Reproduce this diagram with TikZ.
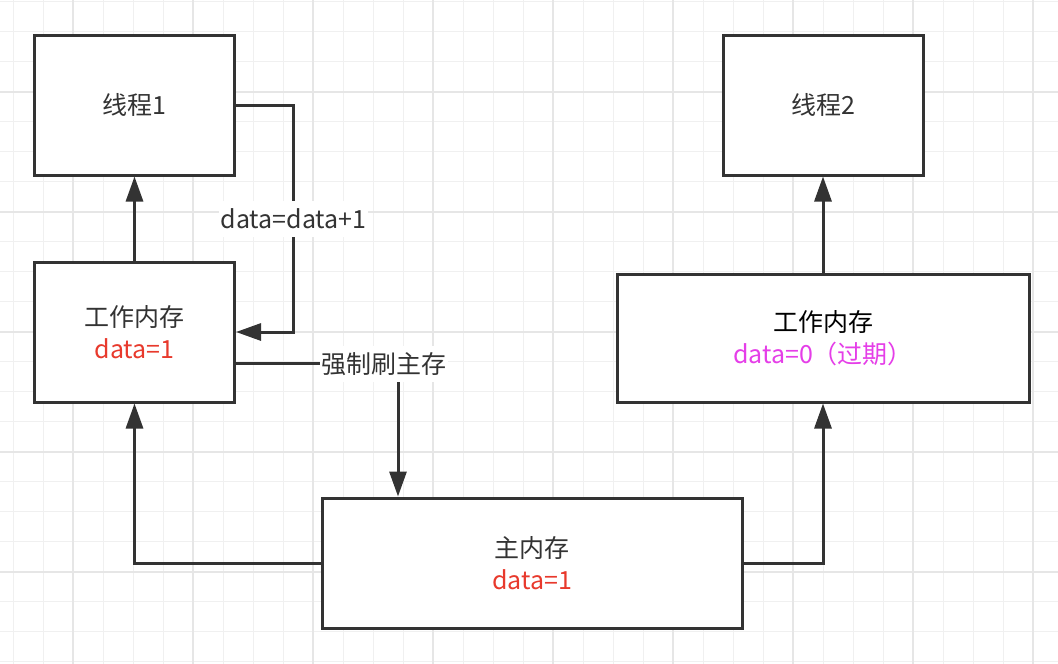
\documentclass[tikz,border=0pt]{standalone}
\usepackage{fontspec}
\setmainfont{Noto Sans CJK SC}
\usetikzlibrary{arrows.meta,calc}
\definecolor{ink}{HTML}{333333}
\definecolor{redtxt}{HTML}{E8392C}
\definecolor{magtxt}{HTML}{E53EE8}
\definecolor{gridminor}{HTML}{F0F0F0}
\definecolor{gridmajor}{HTML}{E6E6E6}
\tikzset{
  box/.style={draw=ink, line width=3pt, fill=white, rectangle, align=center,
    text=ink, font=\fontsize{25}{32}\selectfont, inner sep=0pt},
  conn/.style={draw=ink, line width=3pt, line join=miter,
    -{Triangle[length=25pt,width=17pt]}},
  lbl/.style={fill=white, text=ink, font=\fontsize{25}{28}\selectfont, inner sep=1.5pt, minimum height=36pt},
  gminor/.style={draw=gridminor, line width=1.5pt},
  gmajor/.style={draw=gridmajor, line width=1.8pt}
}
\begin{document}
\begin{tikzpicture}[x=1pt,y=-1pt]
\useasboundingbox (0,0) rectangle (1058,664);
\fill[white] (0,0) rectangle (1058,664);
% grid
\foreach \i in {0,...,35} \draw[gminor] ({13.3+30*\i},0) -- ({13.3+30*\i},664);
\foreach \i in {0,...,22} \draw[gminor] (0,{1.7+30*\i}) -- (1058,{1.7+30*\i});
\foreach \i in {0,...,8} \draw[gmajor] ({73.3+120*\i},0) -- ({73.3+120*\i},664);
\foreach \i in {0,...,4} \draw[gmajor] (0,{91.7+120*\i}) -- (1058,{91.7+120*\i});
% boxes
\node[box, minimum width=200pt, minimum height=140pt] (t1) at (134.5,105) {线程1};
\node[box, minimum width=200pt, minimum height=140pt] (w1) at (134.5,332) {工作内存\\\textcolor{redtxt}{data=1}};
\node[box, minimum width=200pt, minimum height=140pt] (t2) at (823,105) {线程2};
\node[box, minimum width=412pt, minimum height=128pt] (w2) at (823,338) {\textcolor{black}{工作内存}\\\textcolor{magtxt}{data=0（过期）}};
\node[box, minimum width=420pt, minimum height=130pt] (m) at (532,563) {主内存\\\textcolor{redtxt}{data=1}};
% connectors
\draw[conn] (w1) -- (t1);
\draw[conn] (w2) -- (t2);
\coordinate (c1) at (293.5,219);
\draw[conn] (t1.east) -| (c1) |- (w1.east);
\node[lbl] (L1) at (c1) {data=data+1};
\coordinate (c2) at (398,363);
\draw[conn] (w1.east |- c2) -- (c2) -- (c2 |- m.north);
\node[lbl] (L2) at (384,364) {强制刷主存};
\draw[conn] (m.west) -| (w1.south);
\draw[conn] (m.east) -| (w2.south);
\end{tikzpicture}
\end{document}
